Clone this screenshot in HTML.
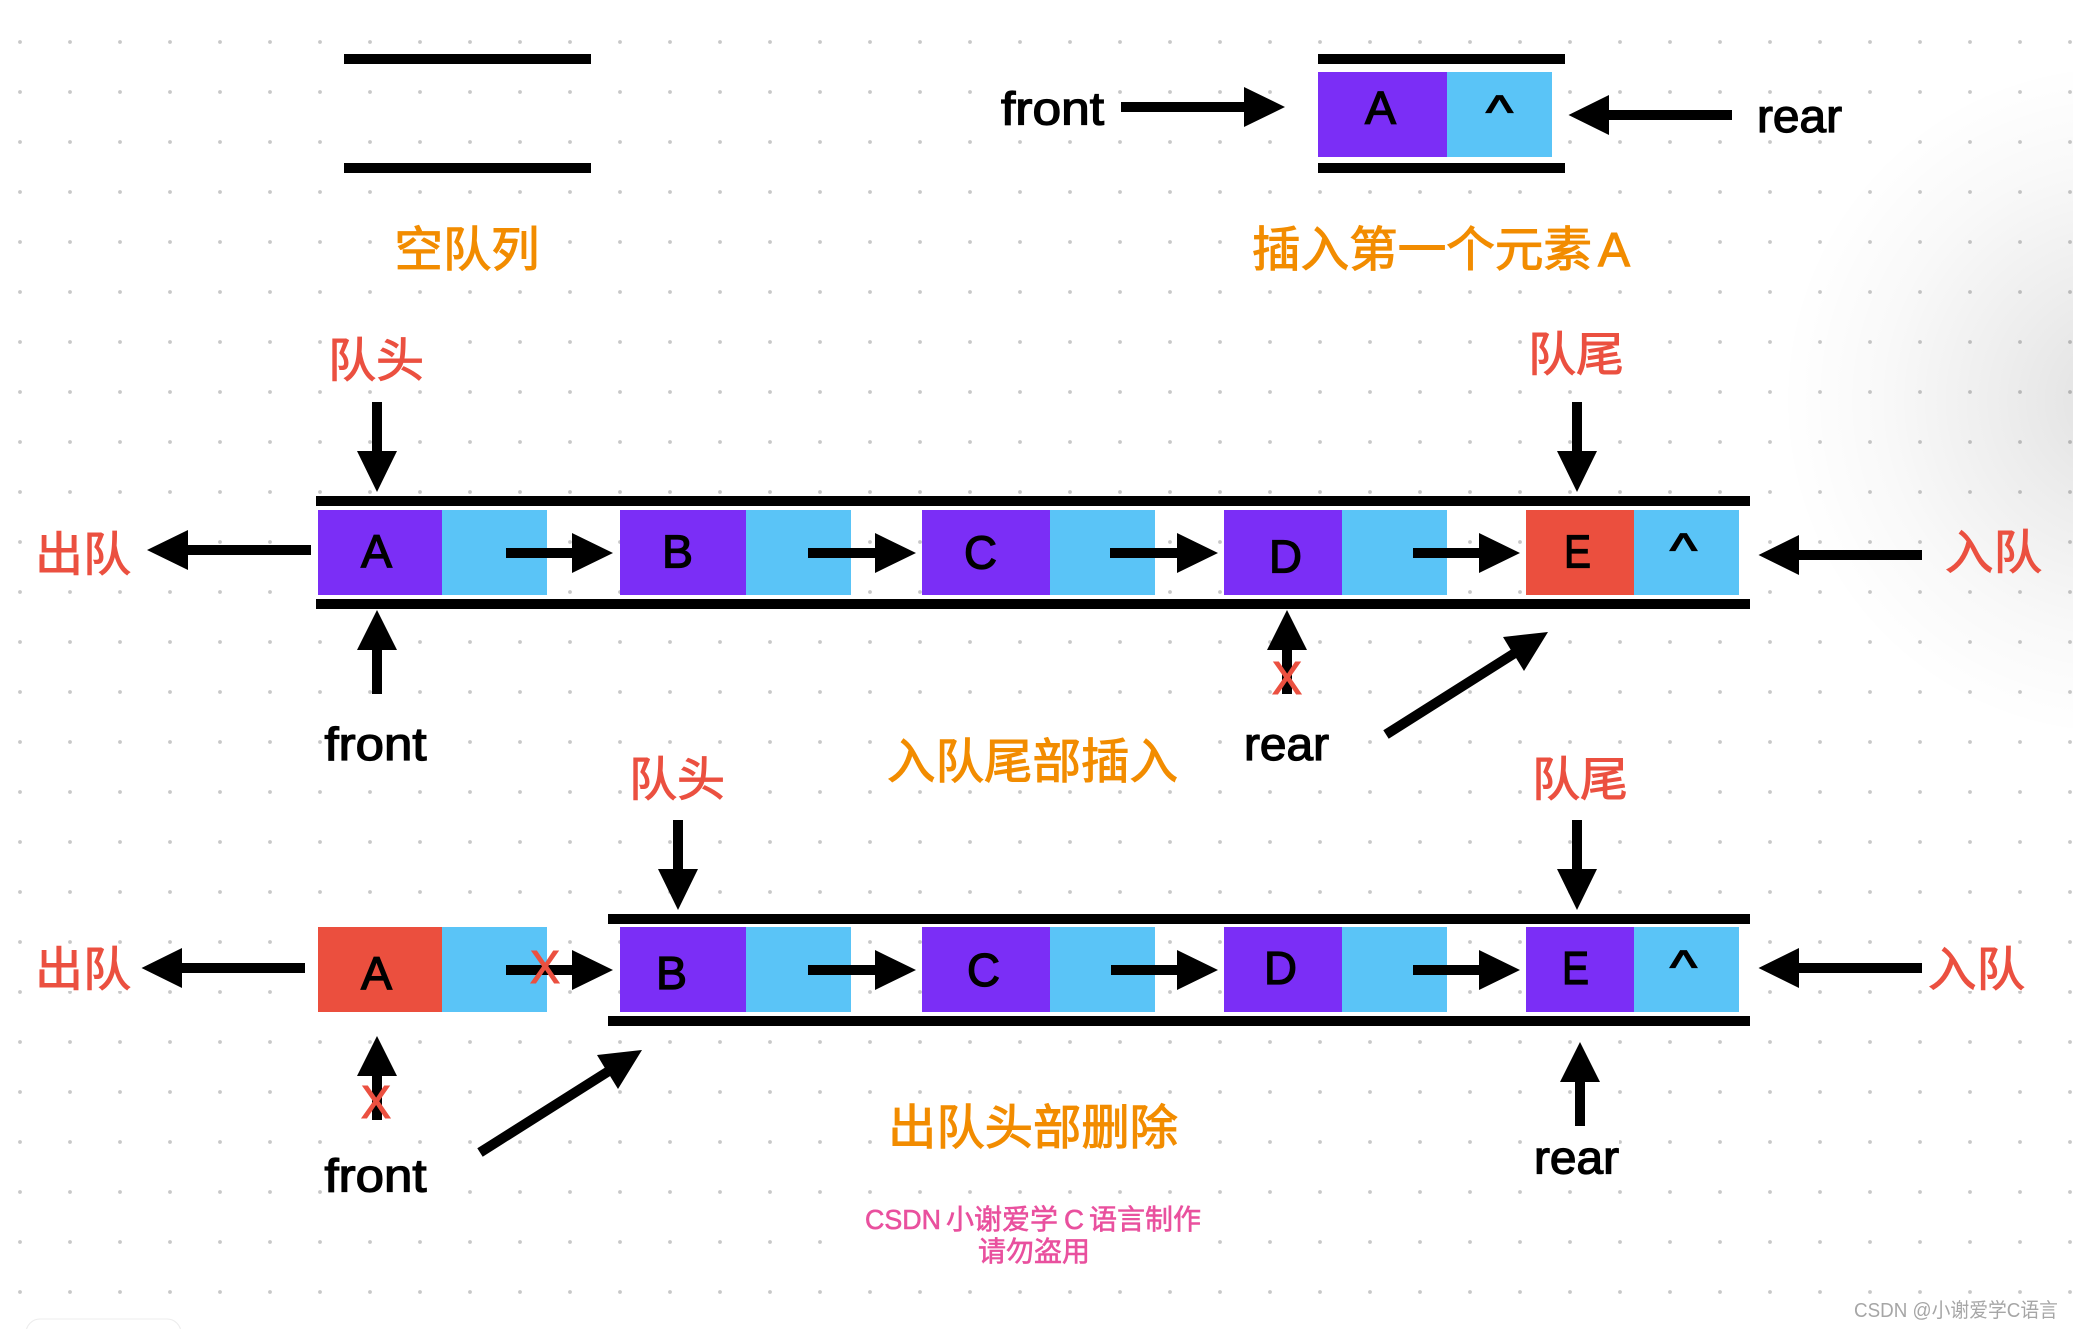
<!DOCTYPE html>
<html lang="zh"><head><meta charset="utf-8"><title>队列</title>
<style>
html,body{margin:0;padding:0;background:#fff}
svg{display:block}
text{font-family:"Liberation Sans","Noto Sans CJK SC",sans-serif}
.o{fill:#f28c00;stroke:#f28c00;stroke-width:1.1;font-size:48px}
.r{fill:#eb5040;stroke:#eb5040;stroke-width:1;font-size:47px}
.k{fill:#000;stroke:#000;stroke-width:1.3;font-size:46px}
.x{fill:#eb5040;stroke:#eb5040;stroke-width:1.1;font-size:46px}
.p{fill:#e9509e;stroke:#e9509e;stroke-width:.6;font-size:28px}
</style></head><body>
<svg xmlns="http://www.w3.org/2000/svg" width="2073" height="1329" viewBox="0 0 2073 1329">
<defs>
<pattern id="d" x="-5" y="17" width="50" height="50" patternUnits="userSpaceOnUse"><circle cx="25" cy="25" r="1.9" fill="#c8c8c8"/></pattern>
<radialGradient id="g" gradientUnits="userSpaceOnUse" cx="2120" cy="400" r="340">
<stop offset="0" stop-color="#000" stop-opacity=".12"/><stop offset=".35" stop-color="#000" stop-opacity=".07"/><stop offset=".7" stop-color="#000" stop-opacity=".025"/><stop offset="1" stop-color="#000" stop-opacity="0"/></radialGradient>
</defs>
<rect width="2073" height="1329" fill="#fff"/>
<rect width="2073" height="1329" fill="url(#d)"/>

<!-- white label backings -->
<g fill="#fff">
<rect x="397" y="224" width="140" height="48"/><rect x="1254" y="224" width="376" height="48"/>
<rect x="330" y="336" width="92" height="47"/><rect x="1530" y="329" width="92" height="47"/>
<rect x="38" y="529" width="90" height="47"/><rect x="1947" y="527" width="93" height="47"/>
<rect x="38" y="944" width="90" height="47"/><rect x="1930" y="944" width="93" height="47"/>
<rect x="631" y="754" width="92" height="47"/><rect x="1534" y="754" width="92" height="47"/>
<rect x="889" y="736" width="287" height="48"/><rect x="890" y="1102" width="286" height="48"/>
<rect x="865" y="1205" width="336" height="60"/>
<rect x="325" y="722" width="101" height="45"/><rect x="325" y="1154" width="101" height="45"/>
<rect x="1245" y="725" width="83" height="40"/><rect x="1535" y="1138" width="84" height="40"/>
<rect x="1001" y="88" width="103" height="40"/><rect x="1758" y="100" width="84" height="36"/>
</g>
<rect x="1770" y="50" width="303" height="700" fill="url(#g)"/>

<!-- bars -->
<g fill="#000">
<rect x="344" y="54" width="247" height="10"/><rect x="344" y="163" width="247" height="10"/>
<rect x="1318" y="54" width="247" height="10"/><rect x="1318" y="163" width="247" height="10"/>
<rect x="316" y="496" width="1434" height="10"/><rect x="316" y="599" width="1434" height="10"/>
<rect x="608" y="914" width="1142" height="10"/><rect x="608" y="1016" width="1142" height="10"/>
</g>

<!-- cells -->
<g fill="#7b2ef6">
<rect x="1318" y="72" width="129" height="85"/>
<rect x="318" y="510" width="124" height="85"/><rect x="620" y="510" width="126" height="85"/><rect x="922" y="510" width="128" height="85"/><rect x="1224" y="510" width="118" height="85"/>
<rect x="620" y="927" width="126" height="85"/><rect x="922" y="927" width="128" height="85"/><rect x="1224" y="927" width="118" height="85"/><rect x="1526" y="927" width="108" height="85"/>
</g>
<g fill="#5ac4f7">
<rect x="1447" y="72" width="105" height="85"/>
<rect x="442" y="510" width="105" height="85"/><rect x="746" y="510" width="105" height="85"/><rect x="1050" y="510" width="105" height="85"/><rect x="1342" y="510" width="105" height="85"/><rect x="1634" y="510" width="105" height="85"/>
<rect x="442" y="927" width="105" height="85"/><rect x="746" y="927" width="105" height="85"/><rect x="1050" y="927" width="105" height="85"/><rect x="1342" y="927" width="105" height="85"/><rect x="1634" y="927" width="105" height="85"/>
</g>
<g fill="#eb4f3e">
<rect x="1526" y="510" width="108" height="85"/><rect x="318" y="927" width="124" height="85"/>
</g>

<!-- arrows -->
<g fill="#000">
<path d="M1121 102H1244V87L1285 107 1244 127V112H1121Z"/>
<path d="M1732 110H1609V95L1568.500 115 1609 135V120H1732Z"/>
<path d="M372 402V451H357L377 492 397 451H382V402Z"/>
<path d="M1572 402V451H1557L1577 492 1597 451H1582V402Z"/>
<path d="M311 545H188V530L147 550 188 570V555H311Z"/>
<path d="M1922 550H1799V535L1758.500 555 1799 575V560H1922Z"/>
<path d="M506 548H572V533L613 553 572 573V558H506Z"/>
<path d="M808 548H875V533L916 553 875 573V558H808Z"/>
<path d="M1110 548H1177V533L1218 553 1177 573V558H1110Z"/>
<path d="M1413 548H1479V533L1520 553 1479 573V558H1413Z"/>
<path d="M372 694V650H357L377 610 397 650H382V694Z"/>
<path d="M1282 694V650H1267L1287 610 1307 650H1292V694Z"/>
<path d="M1383.300 730.300L1510.700 649.700L1503 637L1548 632L1524 671L1516.100 658.100L1388.700 738.700Z"/>
<path d="M673 820V869H658L678 910 698 869H683V820Z"/>
<path d="M1572 820V869H1557L1577 910 1597 869H1582V820Z"/>
<path d="M305 963H182V948L141.500 968 182 988V973H305Z"/>
<path d="M1922 963H1799V948L1758.500 968 1799 988V973H1922Z"/>
<path d="M506 965H572V950L613 970 572 990V975H506Z"/>
<path d="M808 965H875V950L916 970 875 990V975H808Z"/>
<path d="M1111 965H1177V950L1218 970 1177 990V975H1111Z"/>
<path d="M1413 965H1479V950L1520 970 1479 990V975H1413Z"/>
<path d="M372 1120V1076H357L377 1036 397 1076H382V1120Z"/>
<path d="M1575 1126V1082H1560L1580 1042 1600 1082H1585V1126Z"/>
<path d="M477.300 1148.300L604.700 1067.700L597 1055L642 1050L618 1089L610.100 1076.100L482.700 1156.700Z"/>
</g>

<!-- orange labels -->
<text class="o" x="394.500" y="266" textLength="145" lengthAdjust="spacingAndGlyphs">空队列</text>
<text class="o" x="1252" y="266" textLength="340" lengthAdjust="spacingAndGlyphs">插入第一个元素</text>
<text class="o" x="1598" y="266" textLength="32" lengthAdjust="spacingAndGlyphs">A</text>
<text class="o" x="887" y="778" textLength="291" lengthAdjust="spacingAndGlyphs">入队尾部插入</text>
<text class="o" x="888" y="1144" textLength="290" lengthAdjust="spacingAndGlyphs">出队头部删除</text>

<!-- red labels -->
<text class="r" x="328" y="377" textLength="96" lengthAdjust="spacingAndGlyphs">队头</text>
<text class="r" x="1528" y="371" textLength="96" lengthAdjust="spacingAndGlyphs">队尾</text>
<text class="r" x="35" y="571" textLength="96" lengthAdjust="spacingAndGlyphs">出队</text>
<text class="r" x="1945" y="569" textLength="97" lengthAdjust="spacingAndGlyphs">入队</text>
<text class="r" x="629" y="796" textLength="96" lengthAdjust="spacingAndGlyphs">队头</text>
<text class="r" x="1532" y="796" textLength="96" lengthAdjust="spacingAndGlyphs">队尾</text>
<text class="r" x="35" y="986" textLength="96" lengthAdjust="spacingAndGlyphs">出队</text>
<text class="r" x="1928" y="986" textLength="97" lengthAdjust="spacingAndGlyphs">入队</text>

<!-- black labels -->
<g>
<text class="k" x="1001" y="124.500" textLength="103" lengthAdjust="spacingAndGlyphs">front</text>
<text class="k" x="1757" y="132" textLength="85" lengthAdjust="spacingAndGlyphs">rear</text>
<text class="k" x="324.500" y="760" textLength="102" lengthAdjust="spacingAndGlyphs">front</text>
<text class="k" x="1244" y="760" textLength="85" lengthAdjust="spacingAndGlyphs">rear</text>
<text class="k" x="324.500" y="1191.500" textLength="102" lengthAdjust="spacingAndGlyphs">front</text>
<text class="k" x="1534" y="1173.500" textLength="85" lengthAdjust="spacingAndGlyphs">rear</text>
<text class="k" x="1365" y="124" textLength="31" lengthAdjust="spacingAndGlyphs">A</text>
<text class="k" x="361" y="567.500" textLength="31" lengthAdjust="spacingAndGlyphs">A</text>
<text class="k" x="662" y="567.500" textLength="31" lengthAdjust="spacingAndGlyphs">B</text>
<text class="k" x="964" y="568.500" textLength="33" lengthAdjust="spacingAndGlyphs">C</text>
<text class="k" x="1269" y="572.500" textLength="33" lengthAdjust="spacingAndGlyphs">D</text>
<text class="k" x="1564" y="567.500" textLength="27" lengthAdjust="spacingAndGlyphs">E</text>
<text class="k" x="361" y="989.500" textLength="31" lengthAdjust="spacingAndGlyphs">A</text>
<text class="k" x="656" y="989" textLength="31" lengthAdjust="spacingAndGlyphs">B</text>
<text class="k" x="967" y="986" textLength="33" lengthAdjust="spacingAndGlyphs">C</text>
<text class="k" x="1264" y="984" textLength="33" lengthAdjust="spacingAndGlyphs">D</text>
<text class="k" x="1562" y="984" textLength="27" lengthAdjust="spacingAndGlyphs">E</text>
<text class="k" x="1486" y="128" textLength="27" lengthAdjust="spacingAndGlyphs">^</text>
<text class="k" x="1670" y="566" textLength="27" lengthAdjust="spacingAndGlyphs">^</text>
<text class="k" x="1670" y="983" textLength="27" lengthAdjust="spacingAndGlyphs">^</text>
</g>

<!-- red X -->
<text class="x" x="1272" y="694" textLength="30" lengthAdjust="spacingAndGlyphs">X</text>
<text class="x" x="530" y="983" textLength="30" lengthAdjust="spacingAndGlyphs">X</text>
<text class="x" x="361" y="1118" textLength="30" lengthAdjust="spacingAndGlyphs">X</text>

<!-- pink credit -->
<text class="p" x="865" y="1229" textLength="76" lengthAdjust="spacingAndGlyphs">CSDN</text>
<text class="p" x="946" y="1229">小谢爱学</text>
<text class="p" x="1064" y="1229" textLength="20" lengthAdjust="spacingAndGlyphs">C</text>
<text class="p" x="1089" y="1229">语言制作</text>
<text class="p" x="978" y="1261" textLength="112" lengthAdjust="spacing">请勿盗用</text>

<!-- watermark -->
<text x="1854" y="1317" font-size="20" fill="#a6a6a6" textLength="204" lengthAdjust="spacingAndGlyphs">CSDN @小谢爱学C语言</text>

<!-- bottom-left card -->
<rect x="26" y="1319" width="155" height="30" rx="14" fill="#fff" stroke="#ececec" stroke-width="1"/>
</svg>
</body></html>
